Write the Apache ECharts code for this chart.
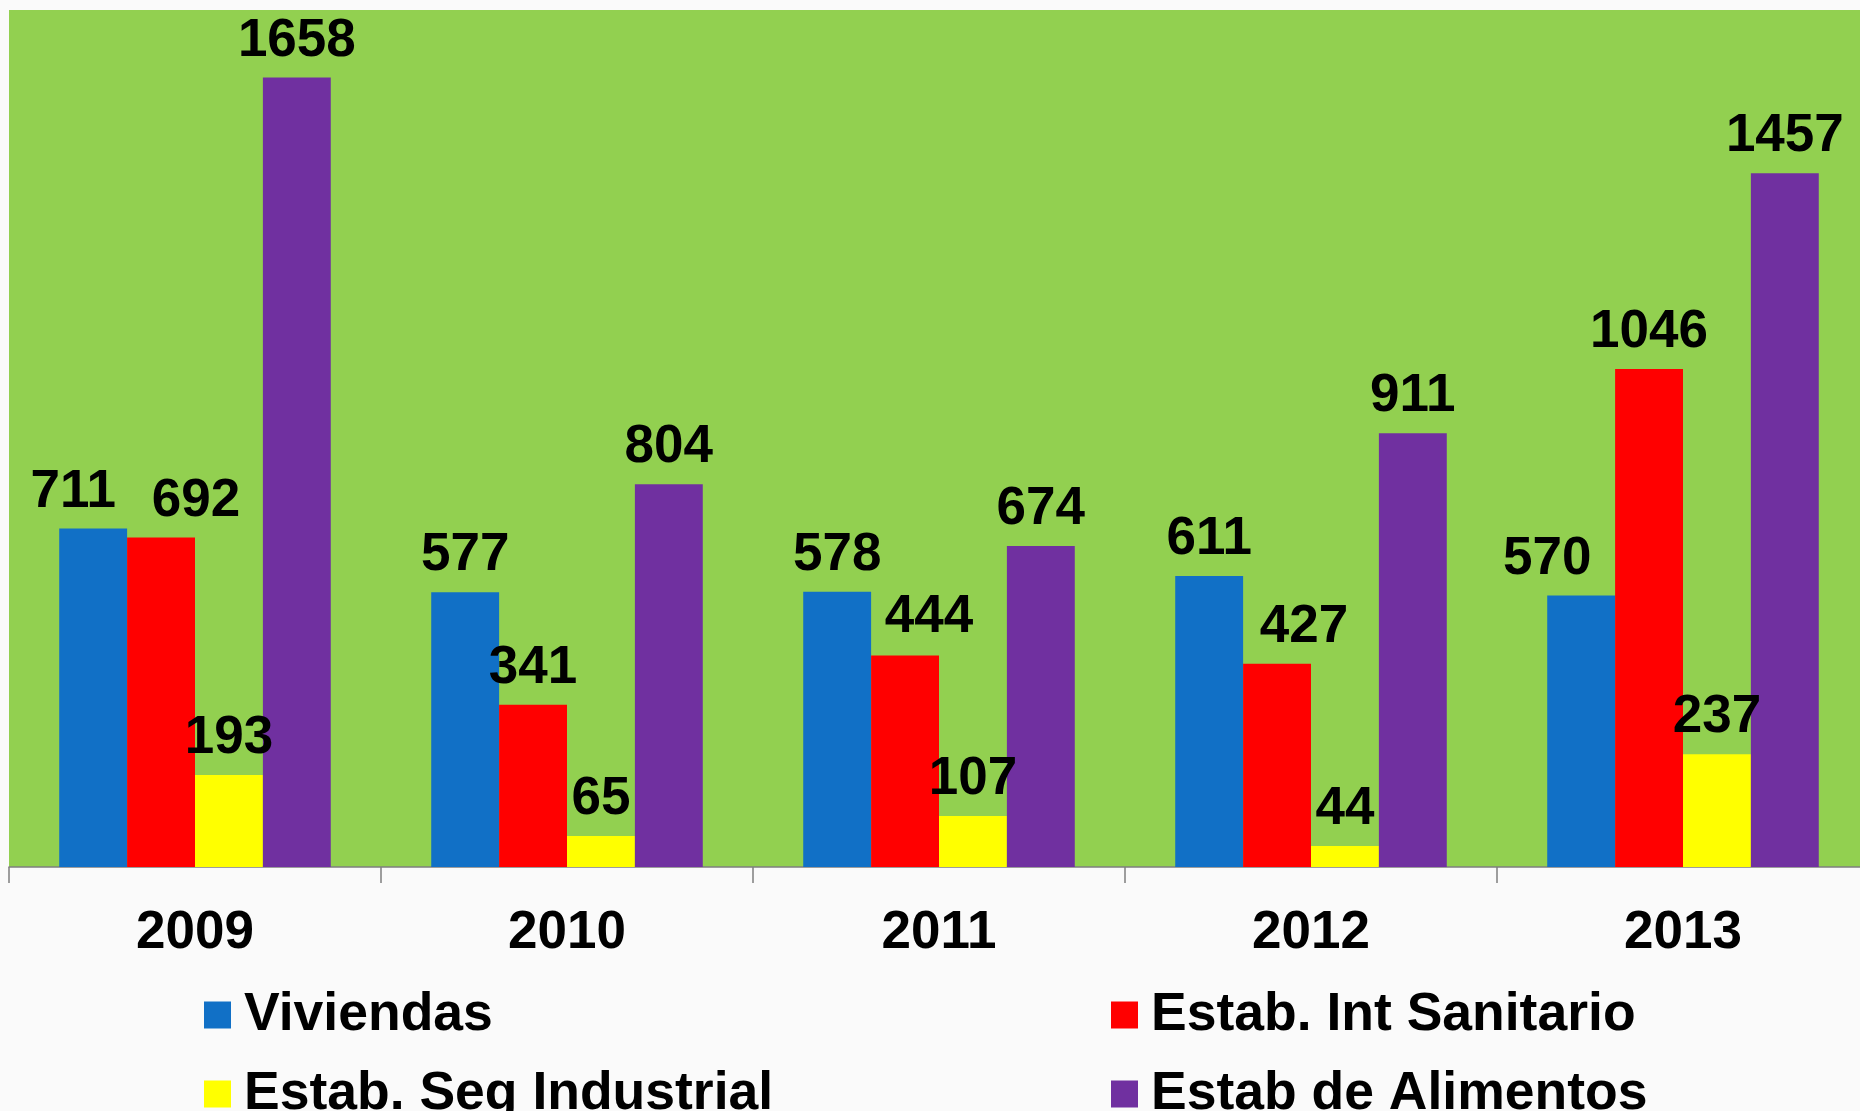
<!DOCTYPE html>
<html>
<head>
<meta charset="utf-8">
<style>
  html, body { margin: 0; padding: 0; background: #FAFAFA; }
  #chart { width: 1860px; height: 1111px; }
</style>
<script src="https://cdn.jsdelivr.net/npm/echarts@6/dist/echarts.min.js"></script>
</head>
<body>
<div id="chart"></div>
<script>
// Inspecciones por año y tipo de establecimiento
const years = ['2009', '2010', '2011', '2012', '2013'];
const viviendas = [711, 577, 578, 611, 570];
const intSanitario = [692, 341, 444, 427, 1046];
const segIndustrial = [193, 65, 107, 44, 237];
const alimentos = [1658, 804, 674, 911, 1457];

const seriesNames = ['Viviendas', 'Estab. Int Sanitario', 'Estab. Seg Industrial', 'Estab de Alimentos'];
const seriesValues = [viviendas, intSanitario, segIndustrial, alimentos];
const seriesColors = ['#1170C6', '#FF0000', '#FFFF00', '#7030A0'];

// Ajustes manuales de algunas etiquetas para evitar solapamientos
const labelNudge = {
  '0-0': [-20, 0],
  '1-0': [35, 0],
  '1-2': [24, -2],
  '1-3': [27, 0],
  '0-4': [-34, 0]
};

const FONT = '"Liberation Sans", Arial, sans-serif';

const series = seriesNames.map((name, s) => ({
  name: name,
  type: 'bar',
  barGap: '0%',
  barCategoryGap: '27%',
  itemStyle: { color: seriesColors[s] },
  label: {
    show: true,
    position: 'top',
    distance: 10,
    color: '#000',
    fontFamily: FONT,
    fontWeight: 'bold',
    fontSize: 53
  },
  data: seriesValues[s].map((v, i) => {
    const nudge = labelNudge[s + '-' + i];
    return nudge ? { value: v, label: { offset: nudge } } : v;
  })
}));

const legendText = {
  color: '#000',
  fontFamily: FONT,
  fontWeight: 'bold',
  fontSize: 53.5,
  lineHeight: 40,
  padding: [0, 0, 0, 8]
};

function legendColumn(left, names) {
  return {
    orient: 'vertical',
    left: left,
    top: 988,
    height: 200,
    padding: 0,
    itemWidth: 27,
    itemHeight: 27,
    itemGap: 25,
    icon: 'rect',
    data: names,
    textStyle: legendText
  };
}

const chart = echarts.init(document.getElementById('chart'), null, { renderer: 'canvas' });
chart.setOption({
  backgroundColor: '#FAFAFA',
  animation: false,
  grid: {
    left: 9,
    top: 10,
    right: -9,
    height: 857,
    containLabel: false,
    outerBoundsMode: 'none',
    show: true,
    backgroundColor: '#92D050',
    borderWidth: 0
  },
  legend: [
    legendColumn(204, [seriesNames[0], seriesNames[2]]),
    legendColumn(1111, [seriesNames[1], seriesNames[3]])
  ],
  xAxis: {
    type: 'category',
    data: years,
    axisLine: { show: true, lineStyle: { color: '#7F7F7F', width: 1.5 } },
    axisTick: { show: true, length: 16, lineStyle: { color: '#7F7F7F', width: 1.5 } },
    axisLabel: {
      color: '#000',
      fontFamily: FONT,
      fontWeight: 'bold',
      fontSize: 53,
      margin: 40
    }
  },
  yAxis: {
    type: 'value',
    min: 0,
    max: 1800,
    show: false,
    splitLine: { show: false }
  },
  series: series
});
</script>
</body>
</html>
